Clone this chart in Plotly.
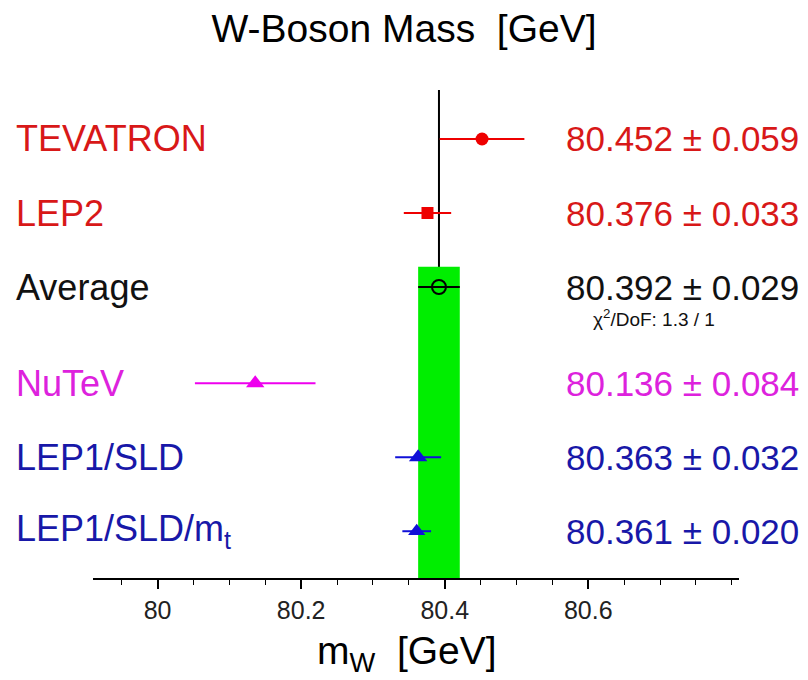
import plotly.graph_objects as go

# ---- data ----
labels = ["TEVATRON", "LEP2", "Average", "NuTeV", "LEP1/SLD", "LEP1/SLD/m<sub>t</sub>"]
values = [80.452, 80.376, 80.392, 80.136, 80.363, 80.361]
errors = [0.059, 0.033, 0.029, 0.084, 0.032, 0.020]
value_text = ["80.452 \u00b1 0.059", "80.376 \u00b1 0.033", "80.392 \u00b1 0.029",
              "80.136 \u00b1 0.084", "80.363 \u00b1 0.032", "80.361 \u00b1 0.020"]
rows = [0, 1, 2, 3.3, 4.3, 5.3]
chi2_text = "\u03c7<sup>2</sup>/DoF: 1.3 / 1"
avg_value = 80.392
avg_error = 0.029
tick_vals = [80, 80.2, 80.4, 80.6]
tick_text = ["80", "80.2", "80.4", "80.6"]

# ---- styles ----
text_colors = ["#d81818", "#d81818", "#111111", "#dd22dd", "#1818a8", "#1818a8"]
mark_colors = ["#ee0000", "#ee0000", "#000000", "#ee00ee", "#1010d8", "#1010d8"]
symbols = ["circle", "square", "circle-open", "triangle-up", "triangle-up", "triangle-up"]
sizes = [13, 12, 14, 16, 16, 15]
FONT = "Liberation Sans, Arial, Helvetica, sans-serif"

fig = go.Figure()

for i in range(len(labels)):
    fig.add_trace(go.Scatter(
        x=[values[i]], y=[rows[i]], mode="markers",
        marker=dict(symbol=symbols[i], size=sizes[i], color=mark_colors[i],
                    line=dict(width=2 if symbols[i] == "circle-open" else 0, color=mark_colors[i])),
        error_x=dict(type="data", array=[errors[i]], color=mark_colors[i],
                     thickness=2, width=0),
        showlegend=False, hoverinfo="skip", cliponaxis=False,
    ))

# green band for average and vertical line
fig.add_shape(type="rect", xref="x", yref="y", x0=avg_value - avg_error, x1=avg_value + avg_error,
              y0=1.726, y1=5.932, fillcolor="#00ee00", line=dict(width=0), layer="below")
fig.add_shape(type="line", xref="x", yref="paper", x0=avg_value, x1=avg_value, y0=0, y1=1,
              line=dict(color="black", width=2), layer="below")

annotations = []
for i in range(len(labels)):
    annotations.append(dict(x=-0.123, xref="paper", y=rows[i], yref="y", text=labels[i],
                            xanchor="left", yanchor="middle", showarrow=False,
                            font=dict(family=FONT, size=36, color=text_colors[i])))
    annotations.append(dict(x=1.096, xref="paper", y=rows[i], yref="y", text=value_text[i],
                            xanchor="right", yanchor="middle", showarrow=False,
                            font=dict(family=FONT, size=35, color=text_colors[i])))
annotations.append(dict(x=0.771, xref="paper", y=2.42, yref="y", text=chi2_text,
                        xanchor="left", yanchor="middle", showarrow=False,
                        font=dict(family=FONT, size=19, color="#111111")))
# x-axis title
annotations.append(dict(x=0.486, xref="paper", y=-0.155, yref="paper", text="m<sub>W</sub>&nbsp;&nbsp;[GeV]",
                        xanchor="center", yanchor="middle", showarrow=False,
                        font=dict(family=FONT, size=39, color="black")))

fig.update_layout(
    width=808, height=680,
    margin=dict(l=93, r=69, t=90, b=102),
    paper_bgcolor="white", plot_bgcolor="white",
    title=dict(text="W-Boson Mass&nbsp;&nbsp;[GeV]", x=0.5, xanchor="center",
               y=0.958, yanchor="middle", font=dict(family=FONT, size=39, color="black")),
    xaxis=dict(range=[79.91, 80.81], tickvals=tick_vals, ticktext=tick_text,
               ticks="outside", ticklen=9, tickwidth=1.5, tickcolor="black",
               minor=dict(dtick=0.05, ticks="outside", ticklen=5, tickwidth=1, tickcolor="black", showgrid=False),
               showline=True, linecolor="black", linewidth=2, showgrid=False, zeroline=False,
               tickfont=dict(family=FONT, size=25, color="#222222")),
    yaxis=dict(range=[5.932, -0.662], visible=False, showgrid=False, zeroline=False),
    annotations=annotations,
)

fig.write_html("out.html")
